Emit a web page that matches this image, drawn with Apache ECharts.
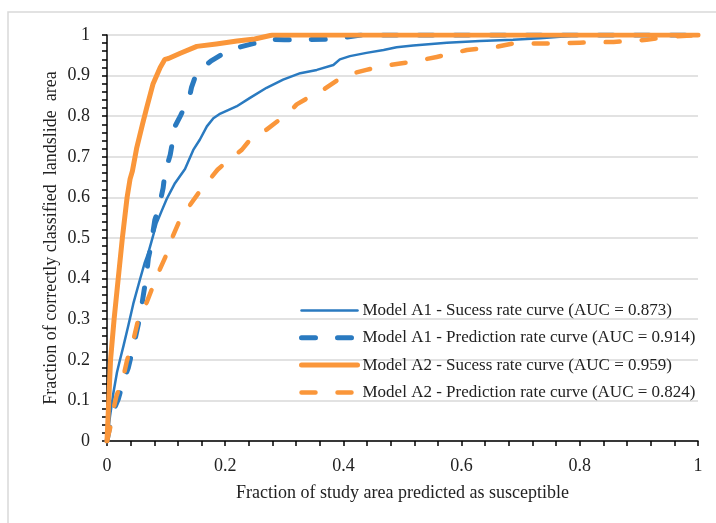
<!DOCTYPE html>
<html>
<head>
<meta charset="utf-8">
<title>Success and prediction rate curves</title>
<script src="https://cdn.jsdelivr.net/npm/echarts@6/dist/echarts.min.js"></script>
<style>
  html, body { margin: 0; padding: 0; background: #fff; }
  #main { width: 716px; height: 523px; }
</style>
</head>
<body>
<div id="main"></div>
<script>
// legend names
var seriesNames = [
  'Model A1 - Sucess rate curve (AUC = 0.873)',
  'Model A1 - Prediction rate curve (AUC = 0.914)',
  'Model A2 - Sucess rate curve (AUC = 0.959)',
  'Model A2 - Prediction rate curve (AUC = 0.824)'
];

// [fraction of study area, fraction of landslide area]
var a1Success = [
  [0, 0], [0.005, 0.06], [0.011, 0.12], [0.017, 0.17], [0.022, 0.2], [0.028, 0.235],
  [0.036, 0.284], [0.045, 0.341], [0.056, 0.399], [0.064, 0.44], [0.07, 0.464],
  [0.075, 0.49], [0.084, 0.537], [0.092, 0.565], [0.101, 0.596], [0.115, 0.635],
  [0.132, 0.67], [0.146, 0.717], [0.157, 0.742], [0.169, 0.775], [0.18, 0.795],
  [0.19, 0.805], [0.205, 0.815], [0.219, 0.824], [0.242, 0.845], [0.27, 0.87],
  [0.298, 0.89], [0.327, 0.906], [0.355, 0.914], [0.383, 0.926], [0.394, 0.94],
  [0.411, 0.948], [0.439, 0.956], [0.468, 0.963], [0.49, 0.97], [0.518, 0.974],
  [0.575, 0.981], [0.631, 0.985], [0.687, 0.988], [0.733, 0.992], [0.772, 0.996],
  [0.8, 1], [1, 1]
];
var a1Prediction = [
  [0, 0], [0.005, 0.038], [0.011, 0.075], [0.019, 0.103], [0.028, 0.148], [0.036, 0.18],
  [0.045, 0.234], [0.056, 0.308], [0.067, 0.41], [0.07, 0.45], [0.073, 0.47],
  [0.081, 0.545], [0.087, 0.57], [0.095, 0.623], [0.098, 0.66], [0.107, 0.705],
  [0.11, 0.73], [0.115, 0.775], [0.124, 0.8], [0.14, 0.85], [0.143, 0.871],
  [0.15, 0.9], [0.16, 0.918], [0.177, 0.937], [0.203, 0.96], [0.219, 0.968],
  [0.25, 0.98], [0.27, 0.99], [0.3, 0.988], [0.38, 0.99], [0.43, 1], [1, 1]
];
var a2Success = [
  [0, 0], [0.003, 0.1], [0.006, 0.2], [0.012, 0.3], [0.019, 0.4], [0.026, 0.5],
  [0.034, 0.6], [0.039, 0.645], [0.043, 0.665], [0.05, 0.72], [0.06, 0.78],
  [0.067, 0.82], [0.078, 0.88], [0.09, 0.92], [0.098, 0.94], [0.104, 0.942],
  [0.124, 0.955], [0.152, 0.972], [0.185, 0.978], [0.22, 0.985], [0.25, 0.99],
  [0.28, 1], [1, 1]
];
var a2Prediction = [
  [0, 0], [0.005, 0.03], [0.011, 0.079], [0.016, 0.111], [0.028, 0.16], [0.033, 0.193],
  [0.039, 0.226], [0.045, 0.251], [0.053, 0.3], [0.067, 0.341], [0.087, 0.415],
  [0.104, 0.47], [0.109, 0.496], [0.121, 0.537], [0.129, 0.558], [0.157, 0.615],
  [0.187, 0.668], [0.203, 0.689], [0.228, 0.717], [0.242, 0.742], [0.27, 0.767],
  [0.307, 0.808], [0.321, 0.829], [0.349, 0.853], [0.366, 0.865], [0.391, 0.89],
  [0.406, 0.902], [0.439, 0.914], [0.468, 0.924], [0.496, 0.93], [0.518, 0.934],
  [0.558, 0.946], [0.609, 0.963], [0.659, 0.971], [0.687, 0.979], [0.744, 0.979],
  [0.8, 0.981], [0.857, 0.983], [0.913, 0.988], [0.953, 0.996], [1, 1]
];

var blue = '#2A7AC0';
var orange = '#FA963A';
var font = '"Liberation Serif", "Times New Roman", serif';

var styles = [
  { color: blue, width: 2.5, type: 'solid' },
  { color: blue, width: 5, type: [14, 22] },
  { color: orange, width: 5, type: 'solid' },
  { color: orange, width: 4.5, type: [14, 22] }
];
var dataSets = [a1Success, a1Prediction, a2Success, a2Prediction];

var myChart = echarts.init(document.getElementById('main'));

var option = {
  animation: false,
  backgroundColor: '#fff',
  graphic: [{
    type: 'rect',
    shape: { x: 8, y: 12, width: 730, height: 530 },
    style: { fill: 'none', stroke: '#D9D9D9', lineWidth: 1.5 },
    z: -1
  }],
  grid: { left: 107, right: 18, top: 35, bottom: 82 },
  legend: {
    show: true,
    orient: 'vertical',
    left: 294,
    top: 297,
    itemWidth: 56,
    itemHeight: 14,
    itemGap: 10.3,
    textStyle: { fontFamily: font, fontSize: 17, color: '#222' },
    data: seriesNames.map(function (n, i) {
      return {
        name: n,
        // line only, no marker in the key
        itemStyle: { color: 'rgba(0,0,0,0)', borderColor: 'rgba(0,0,0,0)', borderWidth: 0 },
        lineStyle: { color: styles[i].color, width: styles[i].width, type: styles[i].type, cap: 'round' }
      };
    })
  },
  xAxis: {
    type: 'value',
    min: 0,
    max: 1,
    interval: 0.2,
    name: 'Fraction of study area predicted as susceptible',
    nameLocation: 'middle',
    nameGap: 43,
    nameMoveOverlap: false,
    nameTextStyle: { fontFamily: font, fontSize: 18, color: '#222' },
    axisLine: { lineStyle: { color: '#000', width: 1.5 } },
    axisTick: { show: true, length: 5, lineStyle: { color: '#000', width: 1.5 } },
    minorTick: { show: true, splitNumber: 5, length: 5, lineStyle: { color: '#000', width: 1.5 } },
    axisLabel: { fontFamily: font, fontSize: 18, color: '#222', margin: 16 },
    splitLine: { show: false }
  },
  yAxis: {
    type: 'value',
    min: 0,
    max: 1,
    interval: 0.1,
    name: 'Fraction of correctly classified  landslide  area',
    nameLocation: 'middle',
    nameGap: 47,
    nameMoveOverlap: false,
    nameTextStyle: { fontFamily: font, fontSize: 18, color: '#222' },
    axisLine: { show: true, lineStyle: { color: '#000', width: 1.5 } },
    axisTick: { show: true, length: 5, lineStyle: { color: '#000', width: 1.5 } },
    minorTick: { show: true, splitNumber: 5, length: 5, lineStyle: { color: '#000', width: 1.5 } },
    axisLabel: { fontFamily: font, fontSize: 18, color: '#222', margin: 17 },
    splitLine: { show: true, lineStyle: { color: '#D9D9D9', width: 1.5 } }
  },
  series: dataSets.map(function (d, i) {
    return {
      name: seriesNames[i],
      type: 'line',
      data: d,
      symbol: 'none',
      showSymbol: false,
      lineStyle: { color: styles[i].color, width: styles[i].width, type: styles[i].type, cap: 'round', join: 'round' },
      itemStyle: { color: styles[i].color }
    };
  })
};
myChart.setOption(option);
</script>
</body>
</html>
